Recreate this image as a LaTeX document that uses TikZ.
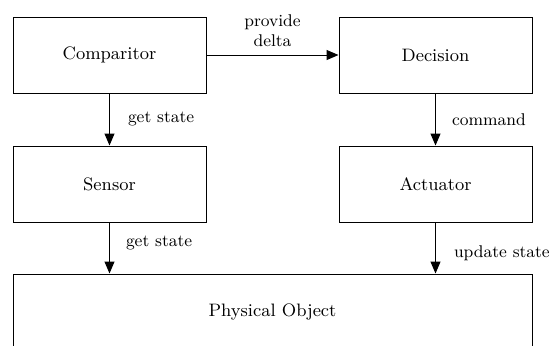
\documentclass[tikz,border=0pt]{standalone}
\usetikzlibrary{arrows.meta}
\begin{document}
\begin{tikzpicture}[x=0.5pt,y=-0.5pt,
  box/.style={draw, line width=0.5pt, minimum width=96.5pt, minimum height=38pt, inner sep=0pt, font=\fontsize{9}{11}\selectfont},
  lbl/.style={font=\fontsize{8.5}{10}\selectfont, inner sep=0pt, align=center},
  arr/.style={-{Triangle[length=6pt,width=5pt]}, line width=0.5pt}]
\useasboundingbox (0,0) rectangle (550,345);
\clip (0,0) rectangle (550,345);
\node[box] (comp) at (109.5,55) {Comparitor};
\node[box] (dec) at (435.5,55) {Decision};
\node[box] (sens) at (109.5,184) {Sensor};
\node[box] (act) at (435.5,184) {Actuator};
\node[box, minimum width=259.5pt] (phys) at (272.5,312) {Physical Object};
\draw[arr] (comp) -- node[lbl, above=4pt] {provide\\delta} (dec);
\draw[arr] (comp) -- node[lbl, anchor=west, xshift=9pt] {get state} (sens);
\draw[arr] (dec) -- node[lbl, anchor=west, xshift=8pt] {command} (act);
\draw[arr] (sens.south) -- node[lbl, pos=0.4, anchor=west, xshift=8pt] {get state} (sens.south |- phys.north);
\draw[arr] (act.south) -- node[lbl, pos=0.6, anchor=west, xshift=9pt] {update state} (act.south |- phys.north);
\end{tikzpicture}
\end{document}
